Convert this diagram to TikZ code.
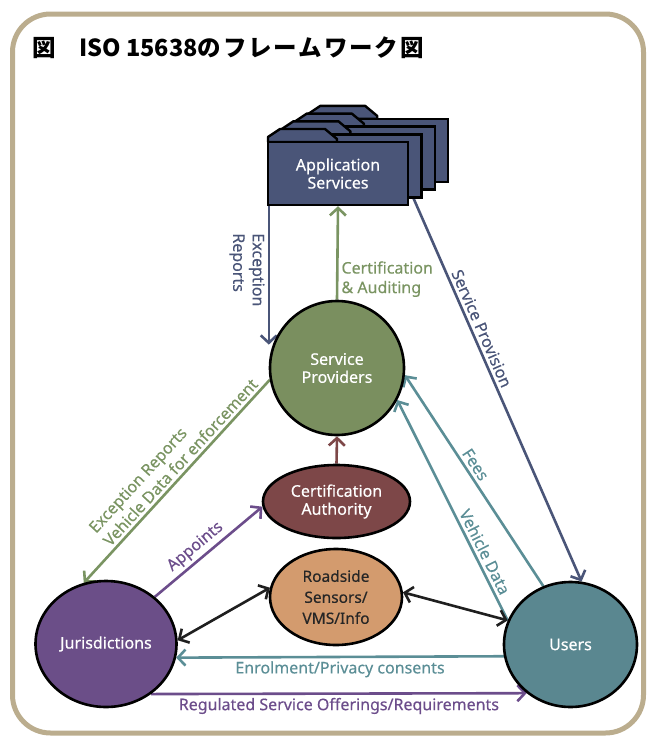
\documentclass[tikz,border=0pt]{standalone}
\usepackage{fontspec}
\setmainfont{Noto Sans}[FakeBold=0.35]
\newfontfamily\jpfont{Noto Sans CJK JP}
\usetikzlibrary{arrows.meta,shapes.geometric}

\definecolor{cFrame}{HTML}{BBAD8E}
\definecolor{cNavy}{HTML}{4A5578}
\definecolor{cSP}{HTML}{7A8F5F}
\definecolor{cGreen}{HTML}{7A9462}
\definecolor{cCA}{HTML}{7D4748}
\definecolor{cRS}{HTML}{D39B6E}
\definecolor{cJur}{HTML}{6B4E88}
\definecolor{cPurple}{HTML}{6C4D8B}
\definecolor{cUser}{HTML}{5A8790}
\definecolor{cTeal}{HTML}{5B8E96}

\newcommand\lblfont{\fontsize{16}{19.5}\selectfont\bfseries}
\newcommand\entfont{\fontsize{16}{18}\selectfont\bfseries}
\newcommand\ttlfont{\jpfont\fontsize{23.5}{26}\selectfont\bfseries}

\pgfdeclarelayer{bg}
\pgfsetlayers{bg,main}

\begin{document}
\begin{tikzpicture}[x=1pt,y=-1pt,
  every node/.style={font=\lblfont},
  entity/.style={draw=black, line width=2.6pt, text=white, font=\entfont,
    align=center, inner sep=0pt},
  appbox/.style={draw=black, line width=2.4pt, fill=cNavy, rectangle,
    minimum width=140pt, minimum height=63pt, inner sep=0pt},
  apptab/.style={draw=black, line width=2.4pt, fill=cNavy, line join=round},
  conn/.style={line width=2.6pt, -{Straight Barb[length=7.5pt,width=16pt]}},
  dconn/.style={line width=2.6pt, {Straight Barb[length=7.5pt,width=16pt]}-{Straight Barb[length=7.5pt,width=16pt]}},
  lbl/.style={font=\lblfont, inner sep=3pt}]

\useasboundingbox (0,0) rectangle (647,737);

% outer frame
\draw[cFrame, line width=5pt, rounded corners=38pt] (12.5,14) rectangle (643.5,733);

% heading
\node[anchor=west, font=\ttlfont, inner sep=0pt] (title) at (32,48)
  {図　ISO 15638{\addfontfeatures{LetterSpace=8}のフレームワーク図}};

% stacked application service folders (back to front)
\foreach \k/\nm in {3/app3,2/app2,1/app1} {
  \begin{scope}[shift={({13.4*\k},{-7.7*\k})}]
    \filldraw[apptab] (268,142) -- (268,137) -- (280,129) -- (325,129) -- (337,139) -- (337,142) -- cycle;
    \node[appbox] (\nm) at (338,173.5) {};
  \end{scope}
}
\filldraw[apptab] (268,142) -- (268,137) -- (280,129) -- (325,129) -- (337,139) -- (337,142) -- cycle;
\node[appbox, text=white, font=\entfont, align=center] (app) at (338,173.5) {Application\\Services};

% actors
\node[entity, circle, fill=cSP, minimum size=134pt] (sp) at (337,368) {Service\\Providers};
\node[entity, ellipse, fill=cCA, minimum width=147pt, minimum height=73pt] (ca) at (336.5,501.5) {Certification\\Authority};
\node[entity, ellipse, fill=cRS, text=black!85, minimum width=132pt, minimum height=96pt,
  font=\fontsize{15.5}{21}\selectfont\bfseries] (rs) at (336,597) {Roadside\\Sensors/\\VMS/Info};
\node[entity, ellipse, fill=cJur, minimum width=141pt, minimum height=126pt] (jur) at (106,644) {Jurisdictions};
\node[entity, ellipse, fill=cUser, minimum width=133pt, minimum height=125pt] (users) at (570.5,644.5) {Users};

\begin{pgfonlayer}{bg}
% application services links
\draw[conn, cNavy] ([xshift=2pt]app.south west) -- ([xshift=2pt]app.south west |- sp.160)
  node[lbl, pos=0.46, rotate=-90, anchor=north, align=left, text=cNavy] {Exception\\Reports};
\draw[conn, cGreen] (sp.north) -- (app.south)
  node[lbl, pos=0.22, anchor=west, align=left, text=cGreen] {Certification\\\& Auditing};
\draw[conn, cNavy] ([xshift=-9pt]app1.south east) -- (users.80)
  node[lbl, pos=0.35, sloped, above, text=cNavy] {Service Provision};

% service provider links
\draw[conn, cTeal] (users.115) -- (sp.-6)
  node[lbl, pos=0.55, sloped, above, text=cTeal] {Fees};
\draw[conn, cTeal] (users.159) -- (sp.-28)
  node[lbl, pos=0.29, sloped, above, text=cTeal] {Vehicle Data};
\draw[conn, cGreen] (sp.190) -- (jur.110)
  node[lbl, pos=0.44, sloped, above, align=left, text=cGreen] {Exception Reports\\Vehicle Data for enforcement};
\draw[conn, cCA] (ca.north) -- (sp.south);

% jurisdiction links
\draw[conn, cPurple] (jur.44) -- (ca.184)
  node[lbl, pos=0.45, sloped, above, text=cPurple] {Appoints};
\draw[dconn, black!88] (jur.3) -- (rs.172);
\draw[dconn, black!88] (rs.4) -- (users.159);
\draw[conn, cTeal] (users.190) -- (jur.-11)
  node[lbl, midway, below, text=cTeal] {Enrolment/Privacy consents};
\draw[conn, cPurple] (jur.-48) -- (users.228)
  node[lbl, midway, below, text=cPurple] {Regulated Service Offerings/Requirements};
\end{pgfonlayer}
\end{tikzpicture}
\end{document}
